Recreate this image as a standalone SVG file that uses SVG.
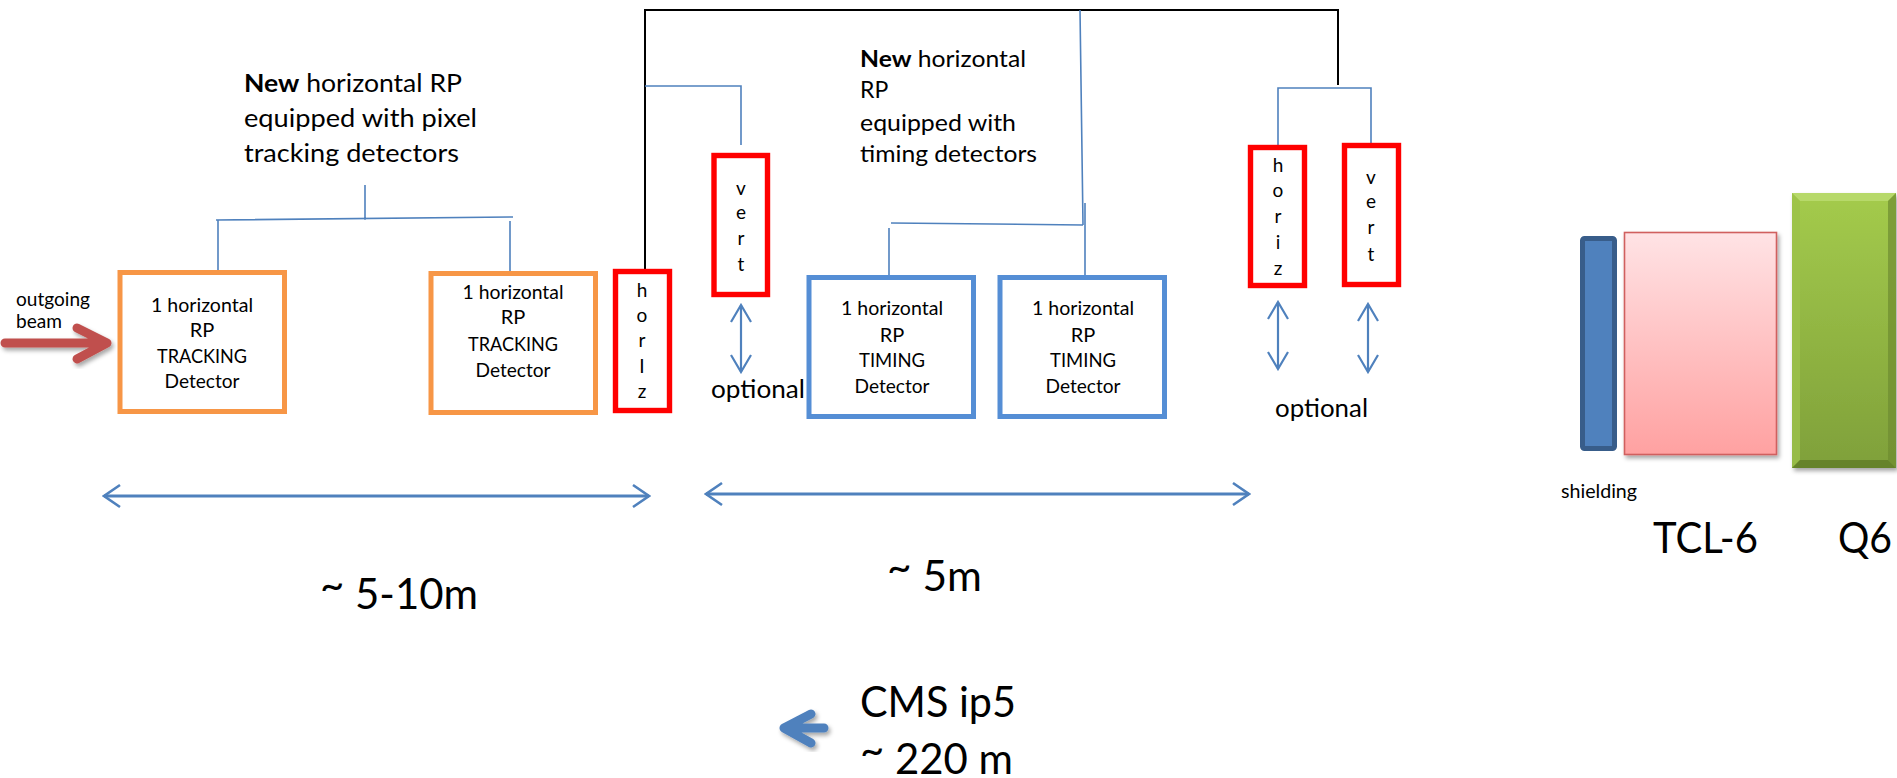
<svg xmlns="http://www.w3.org/2000/svg" width="1897" height="778" viewBox="0 0 1897 778">
  <style>
    .t { font-family: Lato, "Open Sans", "Liberation Sans", sans-serif; fill: #000; }
    .h1 { font-size: 25px; }
    .h2 { font-size: 23px; }
    .lbl { font-size: 20px; text-anchor: middle; }
    .let { font-size: 19px; text-anchor: middle; }
    .big { font-size: 42px; }
    .mid { font-size: 25px; }
    .sm { font-size: 20px; }
    .rp-track { fill: #fff; stroke: #F79646; stroke-width: 5; }
    .rp-time { fill: #fff; stroke: #558ED5; stroke-width: 5; }
    .rp-red { fill: #fff; stroke: #FF0000; stroke-width: 5.4; }
    .wire { fill: none; stroke: #4F81BD; stroke-width: 1.6; }
    .wire-k { fill: none; stroke: #000; stroke-width: 2; }
    .dim { fill: none; stroke: #4F81BD; stroke-width: 2.8; marker-start: url(#chevL); marker-end: url(#chevL); }
    .move { fill: none; stroke: #4F81BD; stroke-width: 2.2; marker-start: url(#chevS); marker-end: url(#chevS); }
    .fat { fill: none; stroke-width: 9; stroke-linecap: round; stroke-linejoin: round; }
  </style>
  <defs>
    <marker id="chevL" viewBox="-19 -13 21 26" refX="0" refY="0" markerWidth="21" markerHeight="26" markerUnits="userSpaceOnUse" orient="auto-start-reverse">
      <path d="M-16,-11 L0,0 L-16,11" fill="none" stroke="#4F81BD" stroke-width="2.6"/>
    </marker>
    <marker id="chevS" viewBox="-19 -12 21 24" refX="0" refY="0" markerWidth="21" markerHeight="24" markerUnits="userSpaceOnUse" orient="auto-start-reverse">
      <path d="M-17,-10 L0,0 L-17,10" fill="none" stroke="#4F81BD" stroke-width="2.2"/>
    </marker>
    <filter id="shadow" x="-20%" y="-20%" width="150%" height="150%">
      <feDropShadow dx="2" dy="3" stdDeviation="2" flood-color="#000" flood-opacity="0.35"/>
    </filter>
    <linearGradient id="pink" x1="0" y1="0" x2="0" y2="1">
      <stop offset="0" stop-color="#FFE3E5"/>
      <stop offset="1" stop-color="#FFA1A1"/>
    </linearGradient>
    <linearGradient id="green" x1="0" y1="0" x2="0" y2="1">
      <stop offset="0" stop-color="#A4CB4C"/>
      <stop offset="1" stop-color="#7FA03A"/>
    </linearGradient>
  </defs>

  <!-- wiring between the pots and their labels -->
  <g id="connectors">
    <path class="wire" d="M365,185 V220 M216,220 L513,217 M218,220 V275 M510,221 V277"/>
    <path class="wire-k" d="M645,9 V270 M645,10 H1338 V85"/>
    <path class="wire" d="M645,86 H741 V145"/>
    <path class="wire" d="M1080,10 L1083,225 M891,223 L1083,225 M889,228 V285 M1085,203 V277"/>
    <path class="wire" d="M1278,146 V88 H1371 V147"/>
    <!-- distance bars -->
    <path class="dim" d="M104,496 H649"/>
    <path class="dim" d="M706,494 H1249"/>
    <!-- optional movement arrows -->
    <path class="move" d="M741,305 V372"/>
    <path class="move" d="M1278,302 V369"/>
    <path class="move" d="M1368,304 V372"/>
  </g>

  <!-- beam direction -->
  <g id="beam">
    <g filter="url(#shadow)">
      <path class="fat" stroke="#C0504D" d="M5,343 H103 M77,328 L107,343 L77,359"/>
    </g>
    <text class="t sm" x="16" y="306" textLength="74" lengthAdjust="spacingAndGlyphs">outgoing</text>
    <text class="t sm" x="16" y="328" textLength="46" lengthAdjust="spacingAndGlyphs">beam</text>
  </g>

  <g id="label-tracking">
    <text class="t h1" x="244" y="92" textLength="218" lengthAdjust="spacingAndGlyphs"><tspan font-weight="bold">New</tspan> horizontal RP</text>
    <text class="t h1" x="244" y="127" textLength="233" lengthAdjust="spacingAndGlyphs">equipped with pixel</text>
    <text class="t h1" x="244" y="162" textLength="215" lengthAdjust="spacingAndGlyphs">tracking detectors</text>
  </g>

  <g id="label-timing">
    <text class="t h2" x="860" y="67" textLength="166" lengthAdjust="spacingAndGlyphs"><tspan font-weight="bold">New</tspan> horizontal</text>
    <text class="t h2" x="860" y="98">RP</text>
    <text class="t h2" x="860" y="131" textLength="156" lengthAdjust="spacingAndGlyphs">equipped with</text>
    <text class="t h2" x="860" y="162" textLength="177" lengthAdjust="spacingAndGlyphs">timing detectors</text>
  </g>

  <g id="tracking-1">
    <rect class="rp-track" x="120" y="272.5" width="164.5" height="139"/>
    <text class="t lbl" x="202" y="312" textLength="102" lengthAdjust="spacingAndGlyphs">1 horizontal</text>
    <text class="t lbl" x="202" y="337">RP</text>
    <text class="t lbl" x="202" y="363" textLength="90" lengthAdjust="spacingAndGlyphs">TRACKING</text>
    <text class="t lbl" x="202" y="388" textLength="75" lengthAdjust="spacingAndGlyphs">Detector</text>
  </g>

  <g id="tracking-2">
    <rect class="rp-track" x="431" y="273.5" width="164.5" height="139"/>
    <text class="t lbl" x="513" y="299" textLength="101" lengthAdjust="spacingAndGlyphs">1 horizontal</text>
    <text class="t lbl" x="513" y="324">RP</text>
    <text class="t lbl" x="513" y="351" textLength="90" lengthAdjust="spacingAndGlyphs">TRACKING</text>
    <text class="t lbl" x="513" y="377" textLength="75" lengthAdjust="spacingAndGlyphs">Detector</text>
  </g>

  <g id="horiz-1">
    <rect class="rp-red" x="615.5" y="271.5" width="54" height="139"/>
    <text class="t let" x="642" y="297">h</text>
    <text class="t let" x="642" y="322">o</text>
    <text class="t let" x="642" y="347">r</text>
    <text class="t let" x="642" y="373">I</text>
    <text class="t let" x="642" y="398">z</text>
  </g>

  <g id="vert-1">
    <rect class="rp-red" x="714" y="155.5" width="53.5" height="139"/>
    <text class="t let" x="741" y="195">v</text>
    <text class="t let" x="741" y="219">e</text>
    <text class="t let" x="741" y="245">r</text>
    <text class="t let" x="741" y="271">t</text>
    <text class="t mid" x="711" y="398" textLength="94" lengthAdjust="spacingAndGlyphs">optional</text>
  </g>

  <g id="timing-1">
    <rect class="rp-time" x="809" y="277.5" width="164.5" height="139"/>
    <text class="t lbl" x="892" y="315" textLength="102" lengthAdjust="spacingAndGlyphs">1 horizontal</text>
    <text class="t lbl" x="892" y="342">RP</text>
    <text class="t lbl" x="892" y="367" textLength="66" lengthAdjust="spacingAndGlyphs">TIMING</text>
    <text class="t lbl" x="892" y="393" textLength="75" lengthAdjust="spacingAndGlyphs">Detector</text>
  </g>

  <g id="timing-2">
    <rect class="rp-time" x="1000" y="277.5" width="164.5" height="139"/>
    <text class="t lbl" x="1083" y="315" textLength="102" lengthAdjust="spacingAndGlyphs">1 horizontal</text>
    <text class="t lbl" x="1083" y="342">RP</text>
    <text class="t lbl" x="1083" y="367" textLength="66" lengthAdjust="spacingAndGlyphs">TIMING</text>
    <text class="t lbl" x="1083" y="393" textLength="75" lengthAdjust="spacingAndGlyphs">Detector</text>
  </g>

  <g id="horiz-2">
    <rect class="rp-red" x="1250.5" y="147.5" width="54" height="138"/>
    <text class="t let" x="1278" y="172">h</text>
    <text class="t let" x="1278" y="197">o</text>
    <text class="t let" x="1278" y="223">r</text>
    <text class="t let" x="1278" y="249">i</text>
    <text class="t let" x="1278" y="275">z</text>
  </g>

  <g id="vert-2">
    <rect class="rp-red" x="1344.5" y="145.5" width="54" height="139"/>
    <text class="t let" x="1371" y="184">v</text>
    <text class="t let" x="1371" y="208">e</text>
    <text class="t let" x="1371" y="234">r</text>
    <text class="t let" x="1371" y="261">t</text>
  </g>
  <text class="t mid" x="1275" y="417" textLength="93" lengthAdjust="spacingAndGlyphs">optional</text>

  <g id="shielding">
    <rect x="1582.5" y="238.5" width="32" height="210" rx="2" fill="#4F81BD" stroke="#385D8A" stroke-width="5"/>
    <text class="t sm" x="1561" y="498" textLength="76" lengthAdjust="spacingAndGlyphs">shielding</text>
  </g>

  <g id="tcl6">
    <rect x="1624.5" y="232.5" width="152" height="222" fill="url(#pink)" stroke="#D0605E" stroke-width="1.6" filter="url(#shadow)"/>
    <text class="t big" x="1653" y="553" textLength="105" lengthAdjust="spacingAndGlyphs">TCL-6</text>
  </g>

  <g id="q6">
    <g filter="url(#shadow)">
      <rect x="1792" y="193" width="104" height="275" fill="url(#green)"/>
      <!-- bevelled rim -->
      <path d="M1792,193 H1896 L1888,201 H1800 Z" fill="#B9DA6E" opacity="0.9"/>
      <path d="M1792,193 L1800,201 V460 L1792,468 Z" fill="#9CC24A" opacity="0.8"/>
      <path d="M1896,193 V468 L1888,460 V201 Z" fill="#6E8C30" opacity="0.7"/>
      <path d="M1792,468 L1800,460 H1888 L1896,468 Z" fill="#5F7C28" opacity="0.8"/>
    </g>
    <text class="t big" x="1838" y="553" textLength="54" lengthAdjust="spacingAndGlyphs">Q6</text>
  </g>

  <g id="distances">
    <text class="t big" x="320" y="609" textLength="158" lengthAdjust="spacingAndGlyphs"><tspan dy="-9">~</tspan><tspan dy="9"> 5-10m</tspan></text>
    <text class="t big" x="887" y="591" textLength="95" lengthAdjust="spacingAndGlyphs"><tspan dy="-9">~</tspan><tspan dy="9"> 5m</tspan></text>
  </g>

  <g id="ip5">
    <g filter="url(#shadow)">
      <path class="fat" stroke="#4F81BD" d="M824,728 H784 M811,714 L784,728 L811,743"/>
    </g>
    <text class="t big" x="860" y="717" textLength="156" lengthAdjust="spacingAndGlyphs">CMS ip5</text>
    <text class="t big" x="860" y="774" textLength="153" lengthAdjust="spacingAndGlyphs"><tspan dy="-9">~</tspan><tspan dy="9"> 220 m</tspan></text>
  </g>
</svg>
